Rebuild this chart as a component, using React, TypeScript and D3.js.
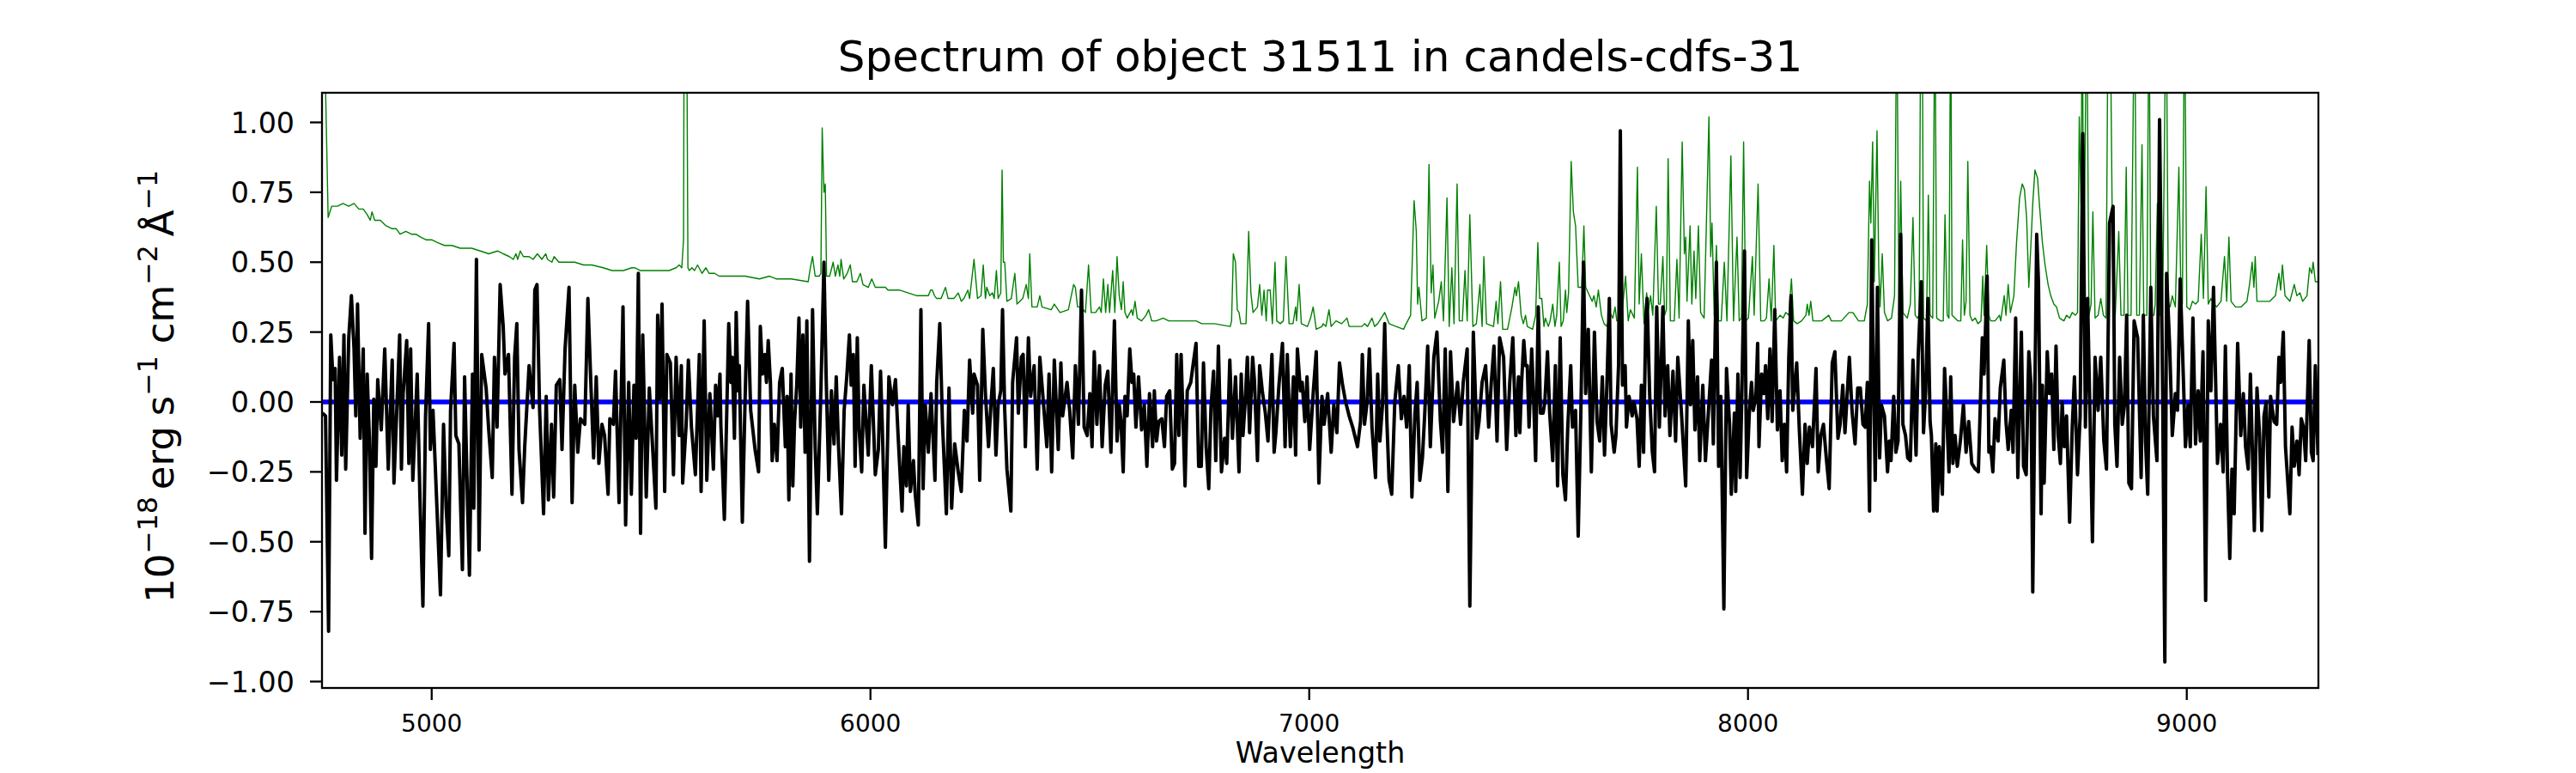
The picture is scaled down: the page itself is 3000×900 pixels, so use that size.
import React from "react";
import * as d3 from "d3";

// ---- Data ----
const title = "Spectrum of object 31511 in candels-cdfs-31";
const xLabel = "Wavelength";
const xTicks = [5000, 6000, 7000, 8000, 9000];
const yTicks = [-1.0, -0.75, -0.5, -0.25, 0.0, 0.25, 0.5, 0.75, 1.0];
const xDomain = [4750, 9300];
const yDomain = [-1.023, 1.106];

// flux (black) : [wavelength, flux]
const fluxData: [number, number][] = [
  [4751,-0.04],[4758,-0.05],[4765,-0.82],[4770,0.24],[4775,0.08],[4780,0.12],[4783,-0.28],[4790,0.16],[4795,-0.19],[4800,0.24],
  [4804,-0.24],[4811,0.23],[4817,0.38],[4823,0.19],[4827,-0.05],[4831,0.35],[4837,-0.13],[4844,0.19],[4848,-0.47],[4853,0.10],
  [4858,-0.13],[4863,-0.56],[4868,0.01],[4873,-0.23],[4877,0.08],[4885,-0.10],[4893,0.19],[4901,-0.24],[4910,0.15],[4914,-0.29],
  [4927,0.24],[4931,-0.24],[4935,0.03],[4943,0.22],[4948,-0.22],[4952,0.19],[4957,-0.28],[4967,0.10],[4973,-0.33],[4980,-0.73],
  [4986,-0.05],[4993,0.28],[4997,-0.17],[5003,-0.03],[5012,-0.38],[5020,-0.69],[5027,-0.08],[5033,-0.38],[5039,-0.55],[5043,-0.03],
  [5051,0.21],[5055,-0.12],[5062,-0.15],[5070,-0.60],[5075,0.09],[5082,-0.38],[5086,-0.62],[5093,0.10],[5096,-0.38],[5102,0.51],
  [5108,-0.53],[5114,0.17],[5124,0.05],[5130,-0.10],[5138,-0.27],[5143,0.16],[5149,-0.09],[5156,0.42],[5163,0.27],[5167,0.10],
  [5175,0.17],[5183,-0.33],[5189,0.16],[5194,0.28],[5199,-0.17],[5207,-0.36],[5212,-0.16],[5222,0.13],[5231,-0.02],[5235,0.40],
  [5240,0.42],[5246,-0.03],[5255,-0.40],[5261,0.02],[5266,-0.35],[5273,-0.08],[5278,-0.34],[5284,0.06],[5292,0.08],[5297,-0.17],
  [5304,0.19],[5313,0.41],[5320,-0.36],[5326,0.06],[5333,-0.18],[5339,-0.06],[5349,-0.08],[5356,0.37],[5362,0.10],[5369,-0.20],
  [5375,0.09],[5381,-0.22],[5388,-0.08],[5394,-0.12],[5402,-0.33],[5406,-0.06],[5414,-0.08],[5419,0.11],[5427,-0.36],[5436,0.34],
  [5442,-0.44],[5449,0.07],[5455,-0.33],[5461,0.06],[5466,-0.13],[5471,0.46],[5476,-0.47],[5481,0.24],[5489,-0.34],[5496,0.05],
  [5502,-0.12],[5511,-0.38],[5515,0.31],[5520,0.01],[5525,0.35],[5531,-0.32],[5536,0.17],[5544,0.14],[5551,-0.26],[5557,0.16],
  [5564,-0.12],[5569,0.13],[5572,-0.29],[5580,-0.08],[5585,0.15],[5592,-0.09],[5601,-0.26],[5610,0.17],[5614,-0.32],[5621,0.29],
  [5627,-0.28],[5634,0.03],[5642,-0.24],[5647,0.06],[5652,-0.05],[5657,0.10],
  [5659,-0.08],[5667,-0.42],[5677,0.28],[5682,0.07],[5685,0.16],[5690,-0.13],[5694,0.32],[5698,0.04],[5701,0.13],[5708,-0.43],
  [5714,-0.01],[5720,0.36],[5727,-0.03],[5737,-0.17],[5745,-0.25],[5749,0.27],[5754,0.10],[5759,0.17],[5763,0.07],[5767,0.22],
  [5772,0.07],[5776,-0.21],[5781,-0.08],[5787,-0.21],[5793,0.07],[5799,0.12],[5806,-0.16],[5810,0.02],[5814,-0.35],[5819,0.10],
  [5823,-0.30],[5827,-0.07],[5832,0.06],[5837,0.30],[5841,-0.09],[5846,0.24],[5851,-0.18],[5855,0.29],[5861,-0.57],[5868,0.33],
  [5874,-0.16],[5879,-0.40],[5887,0.04],[5894,0.50],[5899,0.09],[5905,-0.28],[5911,0.04],[5917,-0.15],[5922,0.09],[5927,-0.15],
  [5934,-0.40],[5940,-0.03],[5946,0.09],[5952,0.24],[5956,0.06],[5961,0.17],[5965,-0.23],[5970,0.23],[5974,-0.09],[5980,-0.25],
  [5985,0.06],[5990,-0.07],[5995,-0.19],[6002,0.13],[6011,-0.26],[6018,-0.17],[6023,0.11],[6027,-0.09],[6034,-0.52],[6042,0.09],
  [6050,-0.01],[6057,0.08],[6063,-0.12],[6072,-0.39],[6076,-0.16],[6082,-0.30],[6086,-0.01],[6091,-0.32],[6098,-0.21],[6102,-0.33],
  [6109,-0.44],[6115,0.33],[6120,-0.31],[6125,-0.01],[6132,-0.18],[6138,0.03],[6147,-0.28],[6151,0.07],[6158,0.28],[6164,-0.07],
  [6173,-0.40],[6179,0.05],[6185,-0.38],[6192,-0.15],[6200,-0.25],[6207,-0.32],[6214,-0.03],[6220,-0.14],[6226,0.15],[6233,-0.04],
  [6236,0.10],[6244,0.06],[6249,-0.28],[6256,0.26],[6262,0.03],[6269,-0.16],[6275,0.00],[6280,0.12],[6286,-0.19],[6291,-0.01],
  [6297,0.04],[6301,0.33],[6306,-0.03],[6311,-0.24],[6320,-0.39],[6324,0.07],[6333,0.23],[6337,-0.04],[6344,0.16],[6348,0.17],
  [6353,-0.16],[6360,0.23],[6365,0.02],[6373,0.13],[6380,-0.24],[6386,0.16],[6393,0.02],[6402,-0.16],[6407,0.10],[6413,-0.25],
  [6419,0.15],[6428,-0.17],[6434,0.14],[6438,-0.05],[6448,0.07],[6454,-0.03],[6461,-0.20],[6467,0.13],[6474,-0.08],[6481,0.40],
  [6487,-0.09],[6494,-0.12],[6500,0.03],[6505,-0.16],[6510,0.18],[6516,-0.08],[6522,0.13],[6528,-0.16],[6535,0.06],[6541,0.11],
  [6548,-0.18],[6556,0.29],[6562,-0.14],[6567,-0.01],
  [6571,-0.07],[6576,-0.25],[6580,0.02],[6585,-0.05],[6591,0.19],[6596,0.07],[6600,0.10],[6605,-0.09],[6611,0.09],[6618,-0.10],
  [6624,-0.01],[6630,-0.23],[6636,0.03],[6643,-0.16],[6647,0.04],[6652,-0.14],[6657,-0.07],[6664,-0.06],[6670,-0.16],[6675,0.02],
  [6682,0.04],[6688,-0.24],[6693,-0.22],[6698,0.17],[6703,-0.12],[6708,0.17],[6717,-0.30],[6722,0.04],[6730,0.07],[6735,0.13],
  [6742,0.21],[6748,-0.23],[6754,-0.23],[6759,0.14],[6765,-0.16],[6771,-0.31],[6776,-0.02],[6782,0.11],[6787,-0.21],[6793,0.20],
  [6800,-0.25],[6807,-0.13],[6812,-0.22],[6819,0.15],[6825,-0.13],[6832,0.09],[6840,-0.25],[6845,0.10],[6849,-0.12],[6854,0.00],
  [6859,0.16],[6864,-0.11],[6871,0.16],[6875,0.08],[6882,-0.21],[6887,0.13],[6893,0.04],[6900,-0.04],[6906,-0.14],[6915,0.17],
  [6920,-0.18],[6924,-0.11],[6931,0.06],[6939,0.21],[6945,-0.16],[6950,0.17],[6957,-0.16],[6964,0.09],[6969,-0.19],[6973,0.19],
  [6980,0.04],[6984,0.07],[6990,-0.07],[6995,0.09],[7001,-0.17],[7009,0.03],[7016,0.18],[7022,-0.29],[7029,0.02],[7034,-0.08],
  [7042,0.03],[7050,-0.18],[7056,-0.01],[7063,-0.11],[7069,0.14],[7076,0.06],[7083,0.00],[7091,-0.05],[7099,-0.09],[7110,-0.16],
  [7117,-0.07],[7121,0.17],[7126,-0.08],[7132,0.00],[7137,0.19],[7143,-0.09],[7151,-0.27],[7156,0.10],[7161,-0.14],[7167,-0.01],
  [7172,0.28],[7177,-0.07],[7182,-0.28],[7188,-0.33],[7195,0.00],[7203,0.13],[7210,-0.06],[7216,0.02],[7222,-0.09],[7228,0.13],
  [7234,-0.34],[7241,-0.04],[7246,0.07],[7252,-0.28],[7258,-0.20],[7263,-0.05],[7270,0.20],[7276,-0.16],[7284,0.16],[7291,0.25],
  [7299,-0.07],[7304,-0.18],[7310,0.19],[7316,-0.32],[7322,0.18],[7329,-0.07],[7338,0.07],[7345,-0.08],[7351,0.07],[7360,0.19],
  [7366,-0.73],[7374,0.25],[7382,-0.13],[7387,-0.07],[7394,0.07],[7402,0.13],[7409,-0.09],[7415,0.07],[7421,0.20],[7428,-0.14],
  [7434,0.23],[7443,0.16],[7450,-0.17],[7457,0.07],[7464,0.23],[7471,-0.12],[7477,0.09],
  [7480,-0.11],[7484,0.07],[7489,0.22],[7493,0.13],[7497,0.13],[7501,-0.09],[7507,0.19],[7511,0.03],[7516,-0.21],[7522,0.34],
  [7527,-0.04],[7533,-0.04],[7537,0.00],[7543,0.18],[7548,-0.04],[7555,-0.21],[7561,0.13],[7566,-0.30],[7572,0.23],[7578,-0.26],
  [7584,-0.35],[7589,-0.10],[7596,0.13],[7600,-0.09],[7607,-0.03],[7613,-0.48],[7619,-0.04],[7625,0.50],[7630,0.03],[7636,0.26],
  [7643,-0.25],[7650,0.25],[7656,-0.07],[7662,-0.14],[7668,0.09],[7673,-0.19],[7679,0.09],[7684,0.37],[7688,-0.08],[7695,-0.18],
  [7699,-0.12],[7705,0.13],[7709,0.97],[7714,0.06],[7720,0.13],[7723,-0.09],[7729,0.02],[7736,-0.05],[7740,0.00],[7747,-0.06],
  [7752,-0.23],[7757,0.06],[7762,-0.18],[7767,0.29],[7770,0.37],[7776,0.02],[7782,-0.18],[7787,-0.25],[7792,0.34],[7798,-0.09],
  [7806,0.34],[7811,-0.05],[7817,0.13],[7822,-0.12],[7829,0.11],[7835,-0.14],[7840,0.16],[7848,-0.03],[7858,-0.30],[7864,0.29],
  [7869,-0.01],[7874,0.22],[7879,-0.10],[7885,0.09],[7890,-0.21],[7897,0.06],[7903,-0.21],[7910,-0.03],[7917,0.15],[7921,-0.15],
  [7928,0.50],[7933,-0.23],[7938,0.02],[7945,-0.74],[7951,0.12],[7958,-0.08],[7962,-0.33],[7969,-0.04],[7972,-0.32],[7977,0.10],
  [7982,-0.27],[7986,0.03],[7992,0.54],[7997,-0.27],[8003,-0.04],[8008,0.07],[8012,-0.03],[8018,0.02],[8022,0.21],[8025,-0.16],
  [8031,0.10],[8036,0.03],[8040,0.13],[8045,-0.06],[8050,0.19],[8055,-0.07],[8061,0.33],[8067,-0.10],[8073,0.04],[8078,-0.21],
  [8083,-0.08],[8088,-0.25],[8093,0.16],[8098,0.38],[8102,-0.03],[8111,0.14],[8117,-0.10],[8124,-0.33],[8130,-0.08],[8135,-0.22],
  [8140,-0.09],[8147,-0.16],[8155,0.12],[8160,-0.25],[8166,-0.12],[8172,-0.08],[8179,-0.21],[8185,-0.31],[8192,0.14],[8198,0.18],
  [8205,-0.13],[8210,-0.08],[8216,0.06],[8221,-0.11],[8231,0.16],[8237,-0.03],[8244,-0.15],[8250,0.05],[8256,0.05],[8262,-0.08],
  [8267,-0.09],[8272,0.07],[8277,-0.39],[8282,0.58],[8286,0.07],[8290,-0.28],[8295,0.41],[8300,-0.20],[8304,-0.01],[8311,-0.05],
  [8318,-0.25],[8322,-0.14],[8326,-0.21],[8332,0.02],[8337,-0.18],[8342,-0.14],[8348,0.60],[8353,-0.08],[8359,-0.12],[8364,-0.20],
  [8370,-0.21],[8376,0.15],[8383,-0.19],[8388,0.17],
  [8395,0.43],[8400,-0.11],[8405,0.04],[8410,0.37],[8415,-0.07],[8418,-0.12],[8423,-0.39],[8428,-0.15],[8431,-0.39],[8436,-0.16],
  [8443,-0.33],[8448,0.12],[8452,-0.01],[8458,-0.25],[8462,0.09],[8467,-0.22],[8472,-0.12],[8477,-0.23],[8484,-0.14],[8491,-0.01],
  [8497,-0.18],[8503,-0.07],[8510,-0.22],[8518,-0.24],[8525,-0.25],[8534,0.23],[8538,0.10],[8545,0.45],[8549,-0.18],[8553,-0.16],
  [8558,-0.25],[8563,-0.06],[8570,-0.14],[8575,0.05],[8583,0.15],[8588,-0.07],[8593,-0.17],[8600,-0.03],[8604,-0.18],[8610,0.30],
  [8615,-0.27],[8623,0.25],[8628,-0.23],[8634,-0.26],[8640,0.18],[8645,0.06],[8649,-0.68],[8654,0.06],[8658,0.60],[8662,0.43],
  [8668,-0.40],[8671,0.06],[8675,-0.29],[8682,0.18],[8687,0.03],[8692,0.10],[8697,-0.17],[8702,0.20],[8707,-0.12],[8712,-0.22],
  [8716,0.00],[8721,-0.16],[8726,-0.05],[8733,-0.43],[8739,-0.09],[8744,0.09],[8751,-0.26],[8757,-0.05],[8763,0.96],[8769,-0.09],
  [8774,0.37],[8780,-0.09],[8785,-0.50],[8791,0.16],[8798,-0.03],[8804,0.16],[8811,-0.14],[8817,-0.24],[8824,0.64],[8832,0.70],
  [8836,-0.08],[8841,-0.23],[8847,0.16],[8853,-0.08],[8858,-0.01],[8863,0.31],[8868,-0.29],[8874,-0.31],[8880,0.29],[8888,0.23],
  [8896,-0.27],[8901,0.31],[8906,-0.14],[8911,-0.33],[8918,0.41],[8924,-0.05],[8932,-0.21],[8938,1.01],[8945,0.04],[8950,-0.93],
  [8954,0.46],[8961,0.20],[8967,-0.12],[8974,0.03],[8979,-0.03],[8985,0.44],[8990,0.20],[8997,-0.16],[9003,-0.01],[9008,-0.16],
  [9014,0.30],[9020,-0.15],[9026,0.04],[9031,-0.14],[9037,0.18],[9043,-0.71],[9049,0.29],[9055,0.04],[9061,0.41],[9065,0.13],
  [9070,-0.22],[9077,-0.08],[9083,-0.25],[9088,0.20],[9093,-0.27],[9098,-0.56],[9103,-0.24],[9108,-0.40],[9116,0.21],[9123,-0.12],
  [9129,0.03],[9134,-0.16],[9140,-0.24],[9145,0.10],[9149,-0.14],[9154,-0.46],[9160,0.05],[9166,-0.12],[9171,-0.46],[9176,-0.05],
  [9181,0.00],[9187,-0.34],[9191,0.02],[9199,-0.07],[9205,-0.08],[9210,0.16],[9214,0.07],[9220,0.25],[9225,-0.16],[9235,-0.40],
  [9240,-0.09],[9245,-0.23],[9251,-0.14],[9256,-0.26],[9261,-0.06],[9266,-0.09],[9271,-0.21],[9279,0.22],[9284,-0.18],[9288,-0.21],
  [9293,0.13],[9299,-0.19],
];

// noise (green) : [wavelength, sigma]; spikes above the frame are clipped
const noiseData: [number, number][] = [
  [4752,1.60],[4764,0.66],[4772,0.70],[4785,0.70],[4798,0.71],[4811,0.70],[4823,0.71],[4834,0.69],[4844,0.69],[4853,0.67],
  [4860,0.65],[4864,0.68],[4870,0.65],[4883,0.65],[4896,0.63],[4909,0.62],[4919,0.62],[4928,0.60],[4941,0.61],[4954,0.60],
  [4964,0.60],[4974,0.59],[4987,0.58],[5000,0.58],[5013,0.57],[5029,0.56],[5046,0.56],[5065,0.55],[5091,0.55],[5111,0.54],
  [5130,0.53],[5150,0.54],[5163,0.53],[5177,0.52],[5186,0.51],[5192,0.53],[5196,0.51],[5202,0.54],[5209,0.52],[5222,0.52],
  [5231,0.51],[5241,0.53],[5251,0.51],[5260,0.53],[5264,0.51],[5274,0.50],[5279,0.52],[5290,0.50],[5306,0.50],[5326,0.50],
  [5346,0.49],[5365,0.49],[5391,0.48],[5411,0.47],[5437,0.47],[5456,0.48],[5463,0.48],[5476,0.47],[5496,0.47],[5515,0.47],
  [5541,0.47],[5557,0.48],[5564,0.49],[5570,0.48],[5574,0.58],[5576,1.80],[5580,1.80],[5584,0.48],[5587,0.47],[5593,0.48],
  [5599,0.47],[5606,0.49],[5616,0.46],[5625,0.48],[5632,0.46],[5645,0.46],[5655,0.45],
  [5682,0.45],[5714,0.45],[5747,0.44],[5770,0.45],[5786,0.44],[5819,0.44],[5858,0.43],[5863,0.48],[5868,0.52],[5874,0.45],
  [5883,0.45],[5887,0.46],[5890,0.98],[5894,0.75],[5897,0.78],[5900,0.45],[5907,0.45],[5915,0.50],[5920,0.45],[5926,0.49],
  [5930,0.45],[5933,0.51],[5939,0.44],[5947,0.46],[5954,0.49],[5959,0.43],[5969,0.43],[5977,0.46],[5983,0.42],[5995,0.41],
  [6003,0.44],[6011,0.41],[6034,0.41],[6040,0.40],[6067,0.40],[6106,0.38],[6132,0.38],[6137,0.40],[6141,0.40],[6146,0.38],
  [6151,0.37],[6161,0.37],[6171,0.41],[6177,0.37],[6190,0.37],[6200,0.39],[6207,0.36],[6213,0.37],[6222,0.40],[6226,0.37],
  [6236,0.51],[6244,0.37],[6252,0.38],[6257,0.49],[6262,0.37],[6265,0.41],[6272,0.38],[6278,0.39],[6282,0.37],[6287,0.47],
  [6291,0.37],[6297,0.39],[6300,0.83],[6303,0.50],[6306,0.50],[6311,0.36],[6321,0.37],[6329,0.46],[6334,0.35],[6347,0.37],
  [6355,0.42],[6360,0.37],[6363,0.53],[6368,0.34],[6380,0.34],[6386,0.38],[6391,0.34],[6412,0.33],[6419,0.35],[6432,0.32],
  [6451,0.33],[6463,0.42],[6467,0.41],[6472,0.34],[6481,0.34],[6490,0.32],[6497,0.49],[6503,0.32],[6513,0.32],[6522,0.34],
  [6526,0.32],[6531,0.44],[6536,0.32],[6541,0.42],[6545,0.32],[6552,0.47],[6557,0.32],[6562,0.52],[6567,0.38],
  [6572,0.33],[6576,0.43],[6580,0.32],[6585,0.30],[6595,0.33],[6598,0.31],[6603,0.36],[6608,0.30],[6618,0.29],[6628,0.31],
  [6634,0.33],[6641,0.29],[6651,0.29],[6667,0.30],[6680,0.29],[6699,0.29],[6716,0.29],[6729,0.29],[6742,0.29],[6755,0.28],
  [6784,0.28],[6820,0.27],[6823,0.29],[6827,0.53],[6832,0.50],[6836,0.33],[6840,0.32],[6844,0.28],[6856,0.28],[6862,0.61],
  [6867,0.39],[6872,0.32],[6877,0.33],[6882,0.34],[6887,0.42],[6892,0.31],[6897,0.40],[6902,0.29],[6905,0.40],[6911,0.40],
  [6916,0.28],[6922,0.50],[6926,0.29],[6934,0.28],[6941,0.29],[6947,0.52],[6954,0.28],[6963,0.28],[6969,0.34],[6971,0.29],
  [6977,0.42],[6982,0.28],[6996,0.27],[7003,0.30],[7009,0.34],[7016,0.26],[7029,0.27],[7032,0.28],[7038,0.27],[7045,0.33],
  [7050,0.27],[7061,0.29],[7074,0.28],[7086,0.30],[7091,0.27],[7120,0.27],[7126,0.28],[7133,0.27],[7143,0.30],[7149,0.27],
  [7156,0.28],[7172,0.32],[7182,0.28],[7198,0.27],[7215,0.26],[7221,0.28],[7231,0.31],[7239,0.72],[7244,0.61],[7247,0.35],
  [7250,0.41],[7257,0.29],[7267,0.30],[7273,0.85],[7278,0.39],[7282,0.49],[7286,0.30],[7295,0.36],[7301,0.43],[7306,0.29],
  [7314,0.73],[7319,0.27],[7325,0.48],[7330,0.28],[7337,0.78],[7342,0.29],[7349,0.29],[7355,0.47],[7360,0.29],[7366,0.67],
  [7373,0.27],[7381,0.28],[7389,0.42],[7394,0.27],[7398,0.52],[7404,0.28],[7420,0.27],[7426,0.36],[7430,0.28],[7436,0.43],
  [7441,0.26],[7452,0.26],[7462,0.34],[7469,0.41],[7472,0.38],[7477,0.43],
  [7483,0.31],[7488,0.28],[7493,0.31],[7497,0.27],[7509,0.26],[7516,0.31],[7521,0.57],[7525,0.37],[7530,0.37],[7535,0.27],
  [7538,0.30],[7545,0.27],[7549,0.29],[7555,0.35],[7560,0.27],[7564,0.31],[7570,0.50],[7574,0.27],[7579,0.29],[7584,0.40],
  [7587,0.32],[7591,0.39],[7597,0.86],[7602,0.68],[7607,0.63],[7613,0.41],[7621,0.41],[7626,0.63],[7630,0.41],[7636,0.39],
  [7645,0.36],[7649,0.38],[7654,0.34],[7659,0.40],[7666,0.31],[7672,0.28],[7679,0.27],[7685,0.32],[7692,0.30],[7697,0.34],
  [7701,0.29],[7711,0.29],[7721,0.45],[7727,0.29],[7732,0.33],[7741,0.30],[7748,0.84],[7752,0.35],[7757,0.53],[7763,0.28],
  [7769,0.39],[7773,0.33],[7778,0.38],[7783,0.31],[7791,0.70],[7796,0.35],[7800,0.35],[7806,0.52],[7810,0.31],[7814,0.33],
  [7818,0.87],[7823,0.29],[7832,0.29],[7838,0.51],[7843,0.30],[7850,0.93],[7855,0.53],[7858,0.59],[7861,0.36],[7868,0.63],
  [7872,0.35],[7877,0.54],[7881,0.37],[7887,0.63],[7892,0.32],[7900,0.30],[7911,1.02],[7915,0.52],[7918,0.64],[7923,0.31],
  [7928,0.56],[7933,0.29],[7939,0.29],[7946,0.50],[7952,0.29],[7961,0.88],[7967,0.29],[7975,0.59],[7980,0.29],[7985,0.30],
  [7990,0.93],[7995,0.29],[8001,0.30],[8010,0.52],[8014,0.31],[8023,0.78],[8029,0.29],[8037,0.29],[8042,0.30],[8048,0.44],
  [8053,0.29],[8059,0.56],[8063,0.29],[8073,0.31],[8080,0.30],[8086,0.32],[8093,0.31],[8099,0.44],[8104,0.29],[8112,0.28],
  [8122,0.29],[8132,0.31],[8135,0.35],[8139,0.31],[8143,0.36],[8148,0.29],[8168,0.29],[8184,0.31],[8190,0.29],[8200,0.29],
  [8213,0.29],[8230,0.32],[8239,0.32],[8252,0.29],[8265,0.29],[8272,0.35],[8277,0.79],[8280,0.64],[8284,0.93],[8288,0.43],
  [8294,0.97],[8298,0.48],[8301,0.34],[8306,0.53],[8311,0.32],[8318,0.29],[8327,0.30],[8334,0.38],[8339,1.50],[8344,0.31],
  [8348,0.79],[8353,0.32],[8363,0.30],[8370,0.35],[8376,0.66],[8381,0.31],
  [8386,0.30],[8390,0.31],[8394,1.50],[8397,1.50],[8400,0.30],[8407,0.29],[8411,0.74],[8415,0.31],[8421,0.30],[8426,1.50],
  [8430,0.30],[8439,0.29],[8445,0.29],[8449,0.67],[8454,0.31],[8458,0.30],[8462,1.50],[8465,0.31],[8478,0.29],[8485,0.29],
  [8489,0.58],[8493,0.31],[8497,0.36],[8501,0.86],[8506,0.31],[8511,0.29],[8518,0.30],[8524,0.28],[8531,0.29],[8535,0.45],
  [8538,0.31],[8544,0.56],[8549,0.31],[8553,0.29],[8563,0.29],[8573,0.31],[8576,0.29],[8584,0.38],[8588,0.31],[8593,0.42],
  [8598,0.32],[8606,0.38],[8612,0.57],[8619,0.73],[8625,0.78],[8630,0.76],[8635,0.66],[8640,0.41],[8645,0.57],[8649,0.71],
  [8654,0.83],[8660,0.80],[8664,0.71],[8671,0.57],[8677,0.49],[8684,0.42],[8690,0.38],[8697,0.35],[8703,0.34],[8710,0.30],
  [8720,0.29],[8726,0.31],[8733,0.30],[8739,0.32],[8746,0.31],[8751,0.32],[8755,1.02],[8759,0.71],[8762,1.50],[8765,0.35],
  [8772,1.50],[8777,0.31],[8782,0.35],[8786,0.68],[8791,0.30],[8798,0.31],[8804,0.37],[8810,0.31],[8816,0.30],[8821,1.50],
  [8825,1.50],[8828,1.00],[8832,0.35],[8837,0.31],[8845,0.61],[8850,0.31],[8857,0.31],[8862,0.84],[8866,0.31],[8873,0.31],
  [8881,1.50],[8886,0.31],[8892,0.31],[8898,0.92],[8902,0.31],[8909,0.31],[8914,1.50],[8918,0.31],[8925,0.31],[8928,0.35],
  [8933,0.71],[8938,0.31],[8945,0.32],[8953,1.50],[8958,0.35],[8962,0.34],[8967,0.38],[8974,0.34],[8982,0.84],[8987,0.35],
  [8990,0.35],[8995,1.50],[9000,0.34],[9007,0.33],[9013,0.36],[9020,0.35],[9026,0.36],[9033,0.60],[9038,0.37],[9044,0.77],
  [9049,0.35],[9055,0.37],[9062,0.35],[9068,0.34],[9078,0.36],[9086,0.52],[9091,0.36],[9096,0.59],[9101,0.36],[9111,0.34],
  [9124,0.34],[9137,0.36],[9143,0.42],[9149,0.50],[9153,0.41],[9156,0.52],[9160,0.36],[9170,0.36],[9189,0.36],[9202,0.38],
  [9210,0.46],[9214,0.40],[9218,0.49],[9224,0.38],[9235,0.36],[9245,0.42],[9251,0.38],[9258,0.39],[9264,0.36],[9274,0.38],
  [9280,0.48],[9285,0.46],[9288,0.50],[9293,0.43],[9299,0.43],
];

// zero reference line
const zeroLevel = [0, 0];

// ---- Layout ----
const W = 3000;
const H = 900;
const M = { left: 375, right: 2700, top: 108, bottom: 801 };
const FONT = "'DejaVu Sans', sans-serif";

const fmtY = (v: number) => {
  const s = Math.abs(v).toFixed(2);
  return v < 0 ? "\u2212" + s : s;
};

export default function App() {
  const x = d3.scaleLinear().domain(xDomain).range([M.left, M.right]);
  const y = d3.scaleLinear().domain(yDomain).range([M.bottom, M.top]);

  const line = d3
    .line<[number, number]>()
    .x((d) => x(d[0]))
    .y((d) => y(d[1]));

  const zeroPath = line([
    [xDomain[0], zeroLevel[0]],
    [xDomain[1], zeroLevel[1]],
  ]) as string;

  const cx = (M.left + M.right) / 2;
  const yl = 45;
  const sup = 31.5;
  const supShift = 19;

  return (
    <svg
      width={W}
      height={H}
      viewBox={`0 0 ${W} ${H}`}
      style={{ position: "absolute", left: 0, top: 0, background: "#fff" }}
      fontFamily={FONT}
    >
      <rect x={0} y={0} width={W} height={H} fill="#fff" />
      <defs>
        <clipPath id="plotClip">
          <rect x={M.left} y={M.top} width={M.right - M.left} height={M.bottom - M.top} />
        </clipPath>
      </defs>

      <g clipPath="url(#plotClip)">
        <path d={zeroPath} stroke="#0000ff" strokeWidth={5.5} fill="none" />
        <path
          d={line(noiseData) as string}
          stroke="#008000"
          strokeWidth={1.4}
          fill="none"
          strokeLinejoin="round"
        />
        <path
          d={line(fluxData) as string}
          stroke="#000000"
          strokeWidth={4}
          fill="none"
          strokeLinejoin="round"
        />
      </g>

      {/* frame */}
      <rect
        x={M.left}
        y={M.top}
        width={M.right - M.left}
        height={M.bottom - M.top}
        fill="none"
        stroke="#000"
        strokeWidth={2.3}
      />

      {/* x ticks */}
      {xTicks.map((t) => (
        <g key={"x" + t}>
          <line x1={x(t)} x2={x(t)} y1={M.bottom} y2={M.bottom + 14} stroke="#000" strokeWidth={2.3} />
          <text x={x(t)} y={852} fontSize={28} textAnchor="middle" fill="#000">
            {t}
          </text>
        </g>
      ))}

      {/* y ticks */}
      {yTicks.map((t) => (
        <g key={"y" + t}>
          <line x1={M.left - 14} x2={M.left} y1={y(t)} y2={y(t)} stroke="#000" strokeWidth={2.3} />
          <text x={343} y={y(t) + 12} fontSize={33.3} textAnchor="end" fill="#000">
            {fmtY(t)}
          </text>
        </g>
      ))}

      {/* title */}
      <text x={cx} y={83} fontSize={50} textAnchor="middle" fill="#000">
        {title}
      </text>

      {/* x label */}
      <text x={cx} y={888} fontSize={33.3} textAnchor="middle" fill="#000">
        {xLabel}
      </text>

      {/* y label */}
      <text
        transform={`translate(202,450) rotate(-90)`}
        fontSize={yl}
        textAnchor="middle"
        fill="#000"
      >
        <tspan>10</tspan>
        <tspan fontSize={sup} dy={-supShift}>{"\u221218"}</tspan>
        <tspan dy={supShift} dx={8}>erg</tspan>
        <tspan dx={12}>s</tspan>
        <tspan fontSize={sup} dy={-supShift}>{"\u22121"}</tspan>
        <tspan dy={supShift} dx={14}>cm</tspan>
        <tspan fontSize={sup} dy={-supShift}>{"\u22122"}</tspan>
        <tspan dy={supShift} dx={10}>Å</tspan>
        <tspan fontSize={sup} dy={-supShift}>{"\u22121"}</tspan>
      </text>
    </svg>
  );
}
